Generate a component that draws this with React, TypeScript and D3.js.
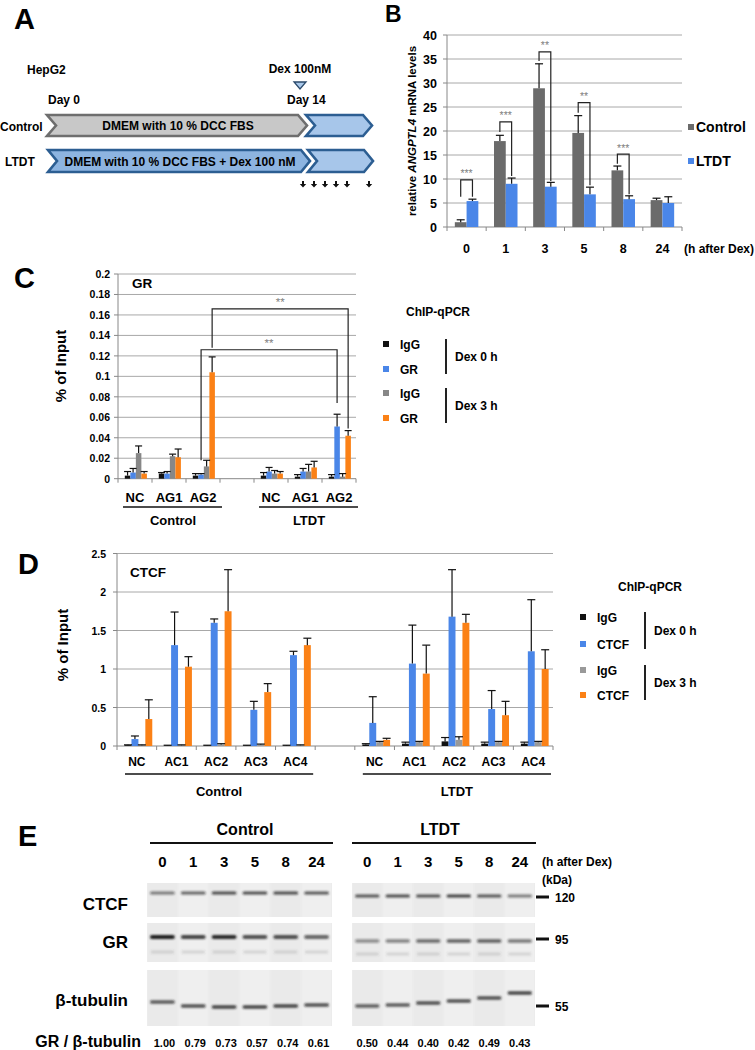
import React from 'react';
import * as d3 from 'd3';

const FONT = "'Liberation Sans', Arial, Helvetica, sans-serif";

// ---------------- Panel A ----------------
const timelineSlots = ['0', '1', '3', '5', '8', 'gap', '24'];
const sampledHours = ['0', '1', '3', '5', '8', '24'];

// ---------------- Panel B ----------------
const hoursB = ['0', '1', '3', '5', '8', '24'];
const seriesB = ['Control', 'LTDT'];
const controlB = [1.0, 17.9, 28.9, 19.6, 11.8, 5.6];
const controlErrB = [0.5, 1.2, 5.1, 3.6, 0.9, 0.4];
const ltdtB = [5.4, 9.0, 8.4, 6.8, 5.8, 5.0];
const ltdtErrB = [0.4, 1.2, 0.9, 1.5, 0.7, 1.3];
const yTicksB = [0, 5, 10, 15, 20, 25, 30, 35, 40];
const sigHourB = ['0', '1', '3', '5', '8'];
const sigLevelB = [9.8, 21.9, 36.5, 25.9, 15.2];
const sigLeftEndB = [6.3, 19.8, 34.6, 23.8, 13.2];
const sigRightEndB = [6.3, 10.6, 9.6, 8.7, 6.8];
const sigStarsB = ['***', '***', '**', '**', '***'];

// ---------------- Panel C ----------------
const conditions = ['Control', 'LTDT'];
const sitesC = ['NC', 'AG1', 'AG2'];
const seriesC = ['IgG 0h', 'GR 0h', 'IgG 3h', 'GR 3h'];
const legendLabelsC = ['IgG', 'GR', 'IgG', 'GR'];
const igg0C = [0.003, 0.005, 0.003, 0.003, 0.002, 0.002];
const igg0ErrC = [0.004, 0.001, 0.002, 0.003, 0.002, 0.002];
const gr0C = [0.006, 0.005, 0.004, 0.007, 0.007, 0.051];
const gr0ErrC = [0.004, 0.002, 0.001, 0.004, 0.003, 0.012];
const igg3C = [0.025, 0.022, 0.012, 0.005, 0.007, 0.002];
const igg3ErrC = [0.007, 0.002, 0.006, 0.003, 0.007, 0.003];
const gr3C = [0.005, 0.021, 0.104, 0.005, 0.011, 0.042];
const gr3ErrC = [0.002, 0.008, 0.015, 0.002, 0.006, 0.005];
const yTicksC = [0, 0.02, 0.04, 0.06, 0.08, 0.1, 0.12, 0.14, 0.16, 0.18, 0.2];
const sigSeriesC = ['GR 3h', 'GR 0h'];
const sigLevelC = [0.166, 0.126];
const sigLeftEndC = [0.128, 0.018];
const sigRightEndC = [0.049, 0.074];
const sigStarsC = ['**', '**'];

// ---------------- Panel D ----------------
const sitesD = ['NC', 'AC1', 'AC2', 'AC3', 'AC4'];
const seriesD = ['IgG 0h', 'CTCF 0h', 'IgG 3h', 'CTCF 3h'];
const legendLabelsD = ['IgG', 'CTCF', 'IgG', 'CTCF'];
const igg0D = [0.01, 0.005, 0.005, 0.005, 0.005, 0.02, 0.03, 0.06, 0.03, 0.03];
const igg0ErrD = [0.005, 0.005, 0.005, 0.005, 0.005, 0.01, 0.02, 0.05, 0.02, 0.02];
const ctcf0D = [0.09, 1.31, 1.6, 0.47, 1.18, 0.3, 1.07, 1.68, 0.48, 1.23];
const ctcf0ErrD = [0.04, 0.43, 0.05, 0.11, 0.05, 0.34, 0.5, 0.61, 0.24, 0.67];
const igg3D = [0.01, 0.01, 0.02, 0.02, 0.01, 0.05, 0.05, 0.08, 0.05, 0.05];
const igg3ErrD = [0.005, 0.005, 0.01, 0.005, 0.005, 0.01, 0.01, 0.04, 0.01, 0.01];
const ctcf3D = [0.35, 1.03, 1.75, 0.7, 1.31, 0.08, 0.94, 1.6, 0.4, 1.0];
const ctcf3ErrD = [0.25, 0.13, 0.54, 0.11, 0.09, 0.02, 0.37, 0.11, 0.18, 0.25];
const yTicksD = [0, 0.5, 1, 1.5, 2, 2.5];

// ---------------- Panel E ----------------
const lanesE = ['0', '1', '3', '5', '8', '24'];
const ctcfBandControl = [0.55, 0.65, 0.75, 0.75, 0.75, 0.7];
const ctcfBandLTDT = [0.7, 0.75, 0.72, 0.8, 0.7, 0.55];
const grBandControl = [1.0, 0.8, 0.95, 0.75, 0.75, 0.65];
const grBandLTDT = [0.45, 0.5, 0.6, 0.65, 0.65, 0.55];
const tubBandControl = [0.7, 0.75, 0.8, 0.8, 0.8, 0.75];
const tubBandLTDT = [0.65, 0.7, 0.75, 0.75, 0.75, 0.8];
const grRatioControl = ['1.00', '0.79', '0.73', '0.57', '0.74', '0.61'];
const grRatioLTDT = ['0.50', '0.44', '0.40', '0.42', '0.49', '0.43'];
const markersKDa = ['120', '95', '55'];

const COLORS4 = ['#111111', '#4a86e8', '#878787', '#fb8116'];
const GRID = '#a8a8a8';
const STAR = '#808080';

const fmt = (t: number) => String(+t.toFixed(2));

function ErrBar({ x, y0, y1, cap }: { x: number; y0: number; y1: number; cap: number }) {
  return (
    <g stroke="#111" strokeWidth={1.2}>
      <line x1={x} x2={x} y1={y0} y2={y1} />
      <line x1={x - cap} x2={x + cap} y1={y1} y2={y1} />
    </g>
  );
}

function PanelA() {
  const arrowX = d3.scalePoint<string>().domain(timelineSlots).range([303, 369]);
  const chev = (x0: number, x1: number, yt: number, yb: number, n: number) => {
    const ym = (yt + yb) / 2;
    return `M${x0},${yt}L${x1 - n},${yt}L${x1},${ym}L${x1 - n},${yb}L${x0},${yb}L${x0 + n},${ym}Z`;
  };
  return (
    <g fontWeight="bold">
      <text x={14} y={29} fontSize={29}>A</text>
      <text x={27} y={74} fontSize={12}>HepG2</text>
      <text x={300} y={73} fontSize={12} textAnchor="middle">Dex 100nM</text>
      <path d="M294,82L306,82L300,89Z" fill="#a9c8ea" stroke="#2b4a6b" strokeWidth={1.3} />
      <text x={48} y={104} fontSize={12}>Day 0</text>
      <text x={287} y={104} fontSize={12}>Day 14</text>
      <path d={chev(47, 307, 115, 136, 9)} fill="#c8c8c8" stroke="#6e6e6e" strokeWidth={2.6} />
      <path d={chev(306, 372, 115, 136, 9)} fill="#a7c6ea" stroke="#2c5e92" strokeWidth={2.6} />
      <path d={chev(48, 310, 150, 172, 9)} fill="#8db4e0" stroke="#2c5e92" strokeWidth={2.6} />
      <path d={chev(308, 373, 150, 172, 9)} fill="#a7c6ea" stroke="#2c5e92" strokeWidth={2.6} />
      <text x={0} y={131} fontSize={12}>Control</text>
      <text x={5} y={166} fontSize={12}>LTDT</text>
      <text x={178} y={130} fontSize={12} textAnchor="middle">DMEM with 10 % DCC FBS</text>
      <text x={180} y={166} fontSize={12} textAnchor="middle">DMEM with 10 % DCC FBS + Dex 100 nM</text>
      {sampledHours.map((h) => {
        const x = arrowX(h)!;
        return <path key={h} d={`M${x - 1},181h2v3h2.2l-3.2,3.4l-3.2,-3.4h2.2z`} fill="#111" />;
      })}
    </g>
  );
}

function PanelB() {
  const x = d3.scaleBand<string>().domain(hoursB).range([447, 682]);
  const bw = x.bandwidth();
  const xs = d3.scaleBand<string>().domain(seriesB).range([bw * 0.2, bw * 0.8]);
  const y = d3.scaleLinear().domain([0, 40]).range([227, 35]);
  const vals = [controlB, ltdtB];
  const errs = [controlErrB, ltdtErrB];
  const colors = ['#6b6b6b', '#4a86e8'];
  const cx = (h: string, s: string) => x(h)! + xs(s)! + xs.bandwidth() / 2;
  return (
    <g>
      <text x={385} y={22} fontSize={23} fontWeight="bold">B</text>
      {yTicksB.map((t) => (
        <g key={t}>
          {t > 0 && <line x1={447} x2={682} y1={y(t)} y2={y(t)} stroke={GRID} strokeWidth={1} />}
          <line x1={443} x2={447} y1={y(t)} y2={y(t)} stroke="#888" />
          <text x={437} y={y(t) + 4.5} fontSize={12.5} fontWeight="bold" textAnchor="end">{t}</text>
        </g>
      ))}
      <line x1={447} x2={447} y1={y(40)} y2={y(0)} stroke="#888" />
      <line x1={447} x2={682} y1={y(0)} y2={y(0)} stroke="#888" />
      {hoursB.map((h) => (
        <line key={'tk' + h} x1={x(h)! + bw} x2={x(h)! + bw} y1={y(0)} y2={y(0) + 4} stroke="#888" />
      ))}
      <line x1={447} x2={447} y1={y(0)} y2={y(0) + 4} stroke="#888" />
      {seriesB.map((s, si) =>
        hoursB.map((h, i) => (
          <rect key={s + h} x={x(h)! + xs(s)!} width={xs.bandwidth()} y={y(vals[si][i])}
            height={y(0) - y(vals[si][i])} fill={colors[si]} />
        ))
      )}
      {seriesB.map((s, si) =>
        hoursB.map((h, i) => (
          <ErrBar key={'e' + s + h} x={cx(h, s)} y0={y(vals[si][i])} y1={y(vals[si][i] + errs[si][i])} cap={4} />
        ))
      )}
      {sigHourB.map((h, i) => {
        const xl = cx(h, 'Control');
        const xr = cx(h, 'LTDT');
        return (
          <g key={'sig' + h}>
            <path d={`M${xl},${y(sigLeftEndB[i])}V${y(sigLevelB[i])}H${xr}V${y(sigRightEndB[i])}`}
              fill="none" stroke="#222" strokeWidth={1.2} />
            <text x={(xl + xr) / 2} y={y(sigLevelB[i]) - 2.5} fontSize={10.5} fill={STAR}
              textAnchor="middle">{sigStarsB[i]}</text>
          </g>
        );
      })}
      {hoursB.map((h) => (
        <text key={'xl' + h} x={x(h)! + bw / 2} y={253} fontSize={12.5} fontWeight="bold" textAnchor="middle">{h}</text>
      ))}
      <text x={684} y={253} fontSize={12} fontWeight="bold">(h after Dex)</text>
      <text transform="translate(416,131) rotate(-90)" fontSize={11.5} fontWeight="bold" textAnchor="middle">
        relative <tspan fontStyle="italic">ANGPTL4</tspan> mRNA levels
      </text>
      {seriesB.map((s, si) => (
        <g key={'lg' + s}>
          <rect x={688} y={124 + si * 34} width={6} height={6} fill={colors[si]} />
          <text x={696} y={131.5 + si * 34} fontSize={14} fontWeight="bold">{s}</text>
        </g>
      ))}
    </g>
  );
}

function Legend4({ x0, yTitle, titleAnchor, titleX, ys, labels, lineX, colors }: any) {
  return (
    <g fontWeight="bold" fontSize={12}>
      <text x={titleX} y={yTitle} textAnchor={titleAnchor}>ChIP-qPCR</text>
      {labels.map((l: string, i: number) => (
        <g key={i}>
          <rect x={x0} y={ys[i] - 3} width={6} height={6} fill={colors[i]} />
          <text x={x0 + 17} y={ys[i] + 4.5}>{l}</text>
        </g>
      ))}
      <line x1={lineX} x2={lineX} y1={ys[0] - 5} y2={ys[1] + 5} stroke="#222" strokeWidth={2} />
      <line x1={lineX} x2={lineX} y1={ys[2] - 5} y2={ys[3] + 5} stroke="#222" strokeWidth={2} />
      <text x={lineX + 9} y={(ys[0] + ys[1]) / 2 + 4.5}>Dex 0 h</text>
      <text x={lineX + 9} y={(ys[2] + ys[3]) / 2 + 4.5}>Dex 3 h</text>
    </g>
  );
}

function groupedKeys(sites: string[]) {
  return [...sites.map((s) => 'Control|' + s), 'gap', ...sites.map((s) => 'LTDT|' + s)];
}

function PanelC() {
  const keys = groupedKeys(sitesC);
  const dataKeys = keys.filter((k) => k !== 'gap');
  const x = d3.scaleBand<string>().domain(keys).range([118, 356]);
  const bw = x.bandwidth();
  const xs = d3.scaleBand<string>().domain(seriesC).range([bw * 0.2, bw * 0.85]);
  const y = d3.scaleLinear().domain([0, 0.2]).range([478.7, 274]);
  const vals = [igg0C, gr0C, igg3C, gr3C];
  const errs = [igg0ErrC, gr0ErrC, igg3ErrC, gr3ErrC];
  const cx = (k: string, s: string) => x(k)! + xs(s)! + xs.bandwidth() / 2;
  return (
    <g>
      <text x={14} y={288} fontSize={29} fontWeight="bold">C</text>
      {yTicksC.map((t) => (
        <g key={t}>
          {t > 0 && <line x1={118} x2={356} y1={y(t)} y2={y(t)} stroke={GRID} />}
          <line x1={114} x2={118} y1={y(t)} y2={y(t)} stroke="#888" />
          <text x={110} y={y(t) + 4} fontSize={10.5} fontWeight="bold" textAnchor="end">{fmt(t)}</text>
        </g>
      ))}
      <line x1={118} x2={118} y1={y(0.2)} y2={y(0) + 4} stroke="#888" />
      <line x1={118} x2={356} y1={y(0)} y2={y(0)} stroke="#888" />
      {keys.map((k) => (
        <line key={'t' + k} x1={x(k)! + bw} x2={x(k)! + bw} y1={y(0)} y2={y(0) + 4} stroke="#888" />
      ))}
      {seriesC.map((s, si) =>
        dataKeys.map((k, i) => (
          <rect key={s + k} x={x(k)! + xs(s)!} width={xs.bandwidth()} y={y(vals[si][i])}
            height={y(0) - y(vals[si][i])} fill={COLORS4[si]} />
        ))
      )}
      {seriesC.map((s, si) =>
        dataKeys.map((k, i) => (
          <ErrBar key={'e' + s + k} x={cx(k, s)} y0={y(vals[si][i])} y1={y(vals[si][i] + errs[si][i])} cap={3.5} />
        ))
      )}
      {sigSeriesC.map((s, i) => {
        const xl = cx('Control|AG2', s);
        const xr = cx('LTDT|AG2', s);
        return (
          <g key={'sig' + i}>
            <path d={`M${xl},${y(sigLeftEndC[i])}V${y(sigLevelC[i])}H${xr}V${y(sigRightEndC[i])}`}
              fill="none" stroke="#222" strokeWidth={1.2} />
            <text x={(xl + xr) / 2} y={y(sigLevelC[i]) - 3} fontSize={11.5} fill={STAR} textAnchor="middle">{sigStarsC[i]}</text>
          </g>
        );
      })}
      {dataKeys.map((k) => (
        <text key={'xl' + k} x={x(k)! + bw / 2} y={502} fontSize={13} fontWeight="bold" textAnchor="middle">{k.split('|')[1]}</text>
      ))}
      {conditions.map((c) => {
        const first = x(c + '|' + sitesC[0])!;
        const last = x(c + '|' + sitesC[sitesC.length - 1])! + bw;
        return (
          <g key={'cond' + c}>
            <line x1={first + 5} x2={last + 2} y1={507} y2={507} stroke="#111" strokeWidth={1.5} />
            <text x={(first + last) / 2 + 4} y={525} fontSize={13} fontWeight="bold" textAnchor="middle">{c}</text>
          </g>
        );
      })}
      <text x={132} y={288} fontSize={13.5} fontWeight="bold">GR</text>
      <text transform="translate(66,366) rotate(-90)" fontSize={15} fontWeight="bold" textAnchor="middle">% of Input</text>
      <Legend4 x0={383} yTitle={316} titleAnchor="start" titleX={406} ys={[344, 369, 393, 418]}
        labels={legendLabelsC} lineX={446} colors={COLORS4} />
    </g>
  );
}

function PanelD() {
  const keys = groupedKeys(sitesD);
  const dataKeys = keys.filter((k) => k !== 'gap');
  const x = d3.scaleBand<string>().domain(keys).range([117, 553]);
  const bw = x.bandwidth();
  const xs = d3.scaleBand<string>().domain(seriesD).range([bw * 0.19, bw * 0.89]);
  const y = d3.scaleLinear().domain([0, 2.5]).range([746, 553.5]);
  const vals = [igg0D, ctcf0D, igg3D, ctcf3D];
  const errs = [igg0ErrD, ctcf0ErrD, igg3ErrD, ctcf3ErrD];
  const cx = (k: string, s: string) => x(k)! + xs(s)! + xs.bandwidth() / 2;
  const colorsD = ['#111111', '#4a86e8', '#999999', '#fb8116'];
  return (
    <g>
      <text x={18} y={574} fontSize={29} fontWeight="bold">D</text>
      {yTicksD.map((t) => (
        <g key={t}>
          {t > 0 && <line x1={117} x2={553} y1={y(t)} y2={y(t)} stroke={GRID} />}
          <line x1={113} x2={117} y1={y(t)} y2={y(t)} stroke="#888" />
          <text x={106} y={y(t) + 4} fontSize={10.5} fontWeight="bold" textAnchor="end">{fmt(t)}</text>
        </g>
      ))}
      <line x1={117} x2={117} y1={y(2.5)} y2={y(0) + 4} stroke="#888" />
      <line x1={117} x2={553} y1={y(0)} y2={y(0)} stroke="#888" />
      {keys.map((k) => (
        <line key={'t' + k} x1={x(k)! + bw} x2={x(k)! + bw} y1={y(0)} y2={y(0) + 4} stroke="#888" />
      ))}
      {seriesD.map((s, si) =>
        dataKeys.map((k, i) => (
          <rect key={s + k} x={x(k)! + xs(s)!} width={xs.bandwidth()} y={y(vals[si][i])}
            height={y(0) - y(vals[si][i])} fill={colorsD[si]} />
        ))
      )}
      {seriesD.map((s, si) =>
        dataKeys.map((k, i) => (
          <ErrBar key={'e' + s + k} x={cx(k, s)} y0={y(vals[si][i])} y1={y(vals[si][i] + errs[si][i])} cap={4} />
        ))
      )}
      {dataKeys.map((k) => (
        <text key={'xl' + k} x={x(k)! + bw / 2} y={766} fontSize={12} fontWeight="bold" textAnchor="middle">{k.split('|')[1]}</text>
      ))}
      {conditions.map((c) => {
        const first = x(c + '|' + sitesD[0])!;
        const last = x(c + '|' + sitesD[sitesD.length - 1])! + bw;
        return (
          <g key={'cond' + c}>
            <line x1={first + 8} x2={last - 2} y1={774} y2={774} stroke="#111" strokeWidth={1.5} />
            <text x={(first + last) / 2 + 3} y={796} fontSize={13} fontWeight="bold" textAnchor="middle">{c}</text>
          </g>
        );
      })}
      <text x={130} y={577} fontSize={13.5} fontWeight="bold">CTCF</text>
      <text transform="translate(68,645) rotate(-90)" fontSize={15} fontWeight="bold" textAnchor="middle">% of Input</text>
      <Legend4 x0={580} yTitle={591} titleAnchor="middle" titleX={650} ys={[617, 644, 670, 695]}
        labels={legendLabelsD} lineX={645} colors={colorsD} />
    </g>
  );
}

function Blot({ x0, x1, y0, y1, bandY, intens, thick, shift, faint }: any) {
  const lx = d3.scaleBand<string>().domain(lanesE).range([x0, x1]);
  const lw = lx.bandwidth();
  return (
    <g>
      <rect x={x0} y={y0} width={x1 - x0} height={y1 - y0} fill="#ececec" />
      {lanesE.map((l, i) => (
        <rect key={'bg' + l} x={lx(l)! + 1} y={y0} width={lw - 2} height={y1 - y0} fill={i % 2 ? '#efefef' : '#eaeaea'} />
      ))}
      {lanesE.map((l, i) => {
        const by = bandY + (shift ? shift[i] : 0);
        return (
          <g key={'b' + l} filter="url(#blur1)">
            <rect x={lx(l)! + 3} y={by - thick / 2} width={lw - 6} height={thick} rx={thick / 2}
              fill="#1c1c1c" opacity={intens[i]} />
            {faint && (
              <rect x={lx(l)! + 4} y={by + faint - 1.5} width={lw - 8} height={3} fill="#555" opacity={0.18} />
            )}
          </g>
        );
      })}
    </g>
  );
}

function PanelE() {
  const lxC = d3.scaleBand<string>().domain(lanesE).range([147, 332]);
  const lxL = d3.scaleBand<string>().domain(lanesE).range([352, 535]);
  const markerY = [897, 939, 1006];
  const tubShiftL = [3, 2, 0, -2, -5, -10];
  const tubShiftC = [-4, 0, 1, 1, 0, -1];
  return (
    <g fontWeight="bold">
      <text x={18} y={846} fontSize={29}>E</text>
      <text x={245} y={835} fontSize={16} textAnchor="middle">Control</text>
      <line x1={150} x2={333} y1={843} y2={843} stroke="#111" strokeWidth={1.8} />
      <text x={440} y={835} fontSize={16} textAnchor="middle">LTDT</text>
      <line x1={352} x2={536} y1={843} y2={843} stroke="#111" strokeWidth={1.8} />
      {lanesE.map((l) => (
        <g key={'ln' + l}>
          <text x={lxC(l)! + lxC.bandwidth() / 2} y={867} fontSize={15} textAnchor="middle">{l}</text>
          <text x={lxL(l)! + lxL.bandwidth() / 2} y={867} fontSize={15} textAnchor="middle">{l}</text>
        </g>
      ))}
      <text x={542} y={866} fontSize={12}>(h after Dex)</text>
      <text x={542} y={884} fontSize={12}>(kDa)</text>
      <Blot x0={147} x1={332} y0={883} y1={917} bandY={893} intens={ctcfBandControl} thick={3} />
      <Blot x0={352} x1={535} y0={883} y1={917} bandY={896} intens={ctcfBandLTDT} thick={3} />
      <Blot x0={147} x1={332} y0={923} y1={962} bandY={937} intens={grBandControl} thick={4} faint={15} />
      <Blot x0={352} x1={535} y0={923} y1={962} bandY={941} intens={grBandLTDT} thick={3.5} faint={13} />
      <Blot x0={147} x1={332} y0={970} y1={1026} bandY={1006} intens={tubBandControl} thick={3.5} shift={tubShiftC} />
      <Blot x0={352} x1={535} y0={970} y1={1026} bandY={1003} intens={tubBandLTDT} thick={3.5} shift={tubShiftL} />
      <text x={128} y={910} fontSize={17} textAnchor="end">CTCF</text>
      <text x={128} y={948} fontSize={17} textAnchor="end">GR</text>
      <text x={128} y={1006} fontSize={17} textAnchor="end">β-tubulin</text>
      <text x={141} y={1047} fontSize={16} textAnchor="end">GR / β-tubulin</text>
      {markersKDa.map((m, i) => (
        <g key={'mk' + m}>
          <line x1={536} x2={549} y1={markerY[i]} y2={markerY[i]} stroke="#111" strokeWidth={3} />
          <text x={555} y={markerY[i] + 4.5} fontSize={12}>{m}</text>
        </g>
      ))}
      {lanesE.map((l, i) => (
        <g key={'r' + l}>
          <text x={lxC(l)! + lxC.bandwidth() / 2 + 2} y={1047} fontSize={11} textAnchor="middle">{grRatioControl[i]}</text>
          <text x={lxL(l)! + lxL.bandwidth() / 2} y={1047} fontSize={11} textAnchor="middle">{grRatioLTDT[i]}</text>
        </g>
      ))}
    </g>
  );
}

export default function App() {
  return (
    <svg width={755} height={1050} style={{ position: 'absolute', left: 0, top: 0, background: '#fff' }}
      fontFamily={FONT}>
      <defs>
        <filter id="blur1" x="-20%" y="-300%" width="140%" height="700%">
          <feGaussianBlur stdDeviation="1.1" />
        </filter>
      </defs>
      <PanelA />
      <PanelB />
      <PanelC />
      <PanelD />
      <PanelE />
    </svg>
  );
}
